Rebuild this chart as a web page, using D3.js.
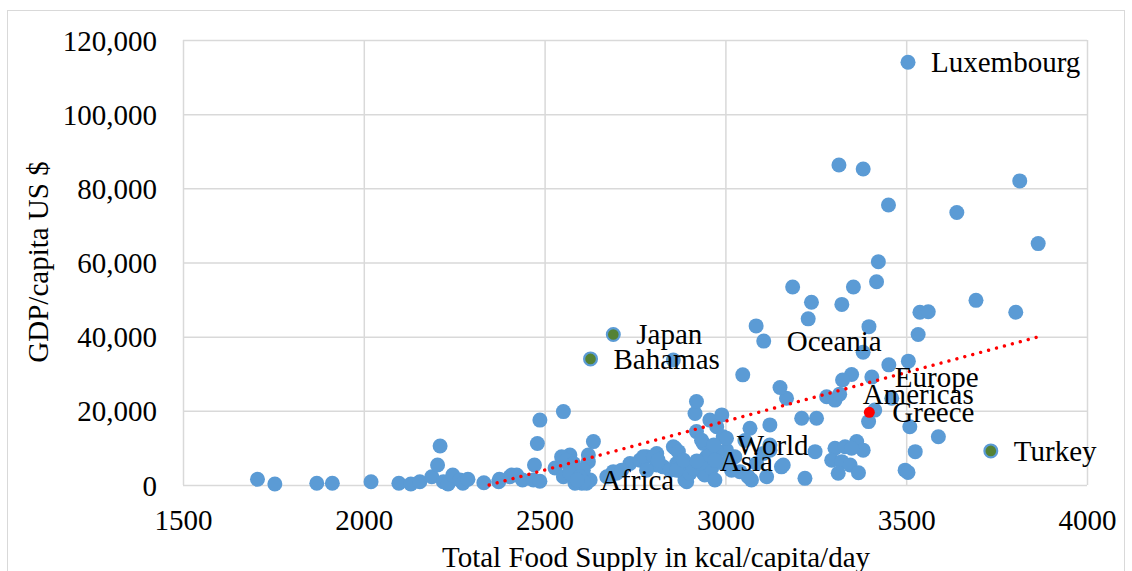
<!DOCTYPE html>
<html>
<head>
<meta charset="utf-8">
<script src="https://cdn.jsdelivr.net/npm/d3@7"></script>
<style>
  html, body { margin: 0; padding: 0; background: #fff; }
  svg text { font-family: "Liberation Serif", "Times New Roman", serif; fill: #000; }
</style>
</head>
<body>
<svg id="chart" width="1132" height="571"></svg>
<script>
// Food supply (kcal/capita/day) against GDP per capita (US $), one entry per country
const kcal = [
  1706, 1754, 1870, 1913, 2020, 2097, 2130, 2155, 2188, 2211, 2204, 2220, 2233, 2246, 2266, 2274, 2288,
  2332, 2373, 2375, 2404, 2409, 2423, 2439, 2469, 2472, 2487, 2480, 2487, 2552, 2529, 2570, 2567, 2552,
  2589, 2603, 2626, 2635, 2621, 2607, 2676, 2584, 2616, 2547, 2561, 2580, 2621, 2570, 2598, 2607, 2699,
  2736, 2764, 2782, 2810, 2856, 2828, 2865, 2884, 2893, 2920, 2916, 2920, 2957, 2990, 2976, 2939, 2994,
  3003, 2939, 3068, 3072, 3026, 3114, 3123, 3155, 3220, 3211, 3252, 3248, 3169, 2943, 3003, 2773, 2801,
  2810, 2782, 2847, 2875, 2861, 2888, 2902, 2934, 2948, 2976, 2962, 2971, 2994, 3054, 3123, 3160, 2690,
  2713, 2672, 2865, 2911, 2930, 2957, 2971, 3017, 3040, 3063, 3086, 3105, 3123, 2870, 2884, 2814,
  3303, 3331, 3363, 3381, 3349, 3294, 3322, 3345, 3312, 3368,
  3314, 3381, 3814, 3451, 3640, 3865, 3423, 3418, 3354, 3186, 3238, 3322, 3693, 3538, 3561, 3803, 3229,
  3397, 3085, 3533, 2856, 3381, 3452, 3506, 3048, 3349, 3324, 3151, 3280, 3303, 3460, 3413, 3396, 3510,
  3589, 3525, 3497, 3505
];
const gdp = [
  1540, 270, 460, 460, 890, 460, 270, 890, 2240, 10500, 5400, 890, 270, 2700, 1350, 460, 1540,
  620, 890, 1540, 2240, 2700, 2700, 1350, 1350, 5400, 1000, 11200, 17500, 19800, 4600, 8100, 5400, 2240,
  1350, 460, 1350, 11700, 6300, 4000, 2240, 460, 460, 7600, 6700, 5800, 8100, 3150, 2240, 890, 3150,
  5800, 6700, 7600, 8500, 10300, 4900, 5800, 3150, 890, 14400, 19300, 22500, 17500, 18900, 15700, 11200, 13000,
  9400, 3150, 15300, 1350, 7600, 2240, 16200, 4900, 1800, 18000, 18000, 9000, 23400, 2700, 12600, 7600, 7600,
  5400, 4000, 4000, 6700, 9900, 1350, 3150, 12100, 7600, 9000, 4500, 1350, 5800, 12000, 10800, 5400, 3600,
  4000, 2240, 4000, 4500, 5800, 8100, 6700, 4000, 3600, 2240, 5800, 8500, 9400, 9000, 6700, 6700,
  9900, 10300, 11700, 9400, 9900, 6700, 6300, 5400, 3150, 3300,
  86300, 85200, 82000, 75500, 73500, 65100, 60200, 54800, 53400, 53400, 49300, 48700, 49800, 46600, 46700, 46600, 44800,
  42700, 42900, 40600, 33700, 35800, 32400, 33400, 29700, 29800, 28300, 26300, 23800, 22900, 23400, 20200, 17100, 15700,
  13000, 9000, 4000, 3400
];

// Named entries shown with a data label
const labelNames = ["Luxembourg", "Japan", "Bahamas", "Oceania", "Europe", "Americas", "Greece", "World", "Asia", "Africa", "Turkey"];
const labelKcal  = [3505, 2690, 2627, 3106, 3405, 3316, 3398, 2968, 2921, 2590, 3734];
const labelGdp   = [114000, 40600, 34000, 38800, 29100, 24500, 19600, 10800, 6500, 1350, 9200];

// Axis ticks
const xTicks = [1500, 2000, 2500, 3000, 3500, 4000];
const yTicks = [0, 20000, 40000, 60000, 80000, 100000, 120000];

const xTitle = "Total Food Supply in kcal/capita/day";
const yTitle = "GDP/capita US $";

// ---- drawing ----
const svg = d3.select("#chart");
const plot = { left: 183, right: 1087, top: 40, bottom: 485 };
const FONT = 29;
const BLUE = "#5B9BD5", GREEN = "#548235", RED = "#FF0000", GRID = "#D9D9D9";
const greenMarkers = new Set(["Japan", "Bahamas", "Turkey"]);
const redMarkers = new Set(["Greece"]);

const x = d3.scaleLinear().domain([xTicks[0], xTicks[xTicks.length - 1]]).range([plot.left, plot.right]);
const y = d3.scaleLinear().domain([yTicks[0], yTicks[yTicks.length - 1]]).range([plot.bottom, plot.top]);

// chart frame
svg.append("rect")
  .attr("x", 7.5).attr("y", 10.5).attr("width", 1117).attr("height", 600)
  .attr("fill", "#fff").attr("stroke", GRID).attr("stroke-width", 1);

// gridlines built from the axes
const gx = svg.append("g").attr("transform", `translate(0,${plot.bottom})`)
  .call(d3.axisBottom(x).tickValues(xTicks).tickSize(-(plot.bottom - plot.top)).tickFormat(d3.format("d")).tickPadding(24));
const gy = svg.append("g").attr("transform", `translate(${plot.left},0)`)
  .call(d3.axisLeft(y).tickValues(yTicks).tickSize(-(plot.right - plot.left)).tickFormat(d3.format(",")).tickPadding(26));
[gx, gy].forEach(g => {
  g.select(".domain").remove();
  g.selectAll(".tick line").attr("stroke", GRID).attr("stroke-width", 1.5);
  g.selectAll(".tick text").attr("font-size", FONT).attr("fill", "#000")
    .style("font-family", '"Liberation Serif", "Times New Roman", serif');
});
gx.selectAll(".tick text").attr("dy", null).attr("y", 35).attr("dominant-baseline", "central");
gy.selectAll(".tick text").attr("dy", null).attr("dominant-baseline", "central");

// points
const pts = kcal.map((k, i) => ({ k, g: gdp[i] }));
const named = labelNames.map((n, i) => ({ name: n, k: labelKcal[i], g: labelGdp[i] }));

svg.append("g").selectAll("circle").data(pts).join("circle")
  .attr("cx", d => x(d.k)).attr("cy", d => y(d.g)).attr("r", 7.5).attr("fill", BLUE);

const plain = named.filter(d => !greenMarkers.has(d.name) && !redMarkers.has(d.name));
svg.append("g").selectAll("circle").data(plain).join("circle")
  .attr("cx", d => x(d.k)).attr("cy", d => y(d.g)).attr("r", 7.5).attr("fill", BLUE);

svg.append("g").selectAll("circle").data(named.filter(d => greenMarkers.has(d.name))).join("circle")
  .attr("cx", d => x(d.k)).attr("cy", d => y(d.g)).attr("r", 6.4)
  .attr("fill", GREEN).attr("stroke", BLUE).attr("stroke-width", 2.2);

svg.append("g").selectAll("circle").data(named.filter(d => redMarkers.has(d.name))).join("circle")
  .attr("cx", d => x(d.k)).attr("cy", d => y(d.g)).attr("r", 5.5).attr("fill", RED);

// linear trend line (least squares over all countries), clipped at the x axis
const all = pts.concat(named);
const mx = d3.mean(all, d => d.k), my = d3.mean(all, d => d.g);
const slope = d3.sum(all, d => (d.k - mx) * (d.g - my)) / d3.sum(all, d => (d.k - mx) ** 2);
const icept = my - slope * mx;
const kMax = d3.max(all, d => d.k);
const kStart = Math.max(d3.min(all, d => d.k), -icept / slope);
svg.append("line")
  .attr("x1", x(kStart)).attr("y1", y(slope * kStart + icept))
  .attr("x2", x(kMax)).attr("y2", y(slope * kMax + icept))
  .attr("stroke", RED).attr("stroke-width", 3.4)
  .attr("stroke-linecap", "round").attr("stroke-dasharray", "0.01 8.2");

// data labels to the right of their markers
svg.append("g").selectAll("text").data(named).join("text")
  .attr("x", d => x(d.k) + 23).attr("y", d => y(d.g))
  .attr("dominant-baseline", "central").attr("font-size", FONT)
  .text(d => d.name);

// axis titles
svg.append("text").attr("x", 656).attr("y", 557).attr("text-anchor", "middle")
  .attr("dominant-baseline", "central").attr("font-size", FONT).text(xTitle);
svg.append("text").attr("transform", "translate(38,262) rotate(-90)").attr("text-anchor", "middle")
  .attr("dominant-baseline", "central").attr("font-size", FONT).text(yTitle);
</script>
</body>
</html>
